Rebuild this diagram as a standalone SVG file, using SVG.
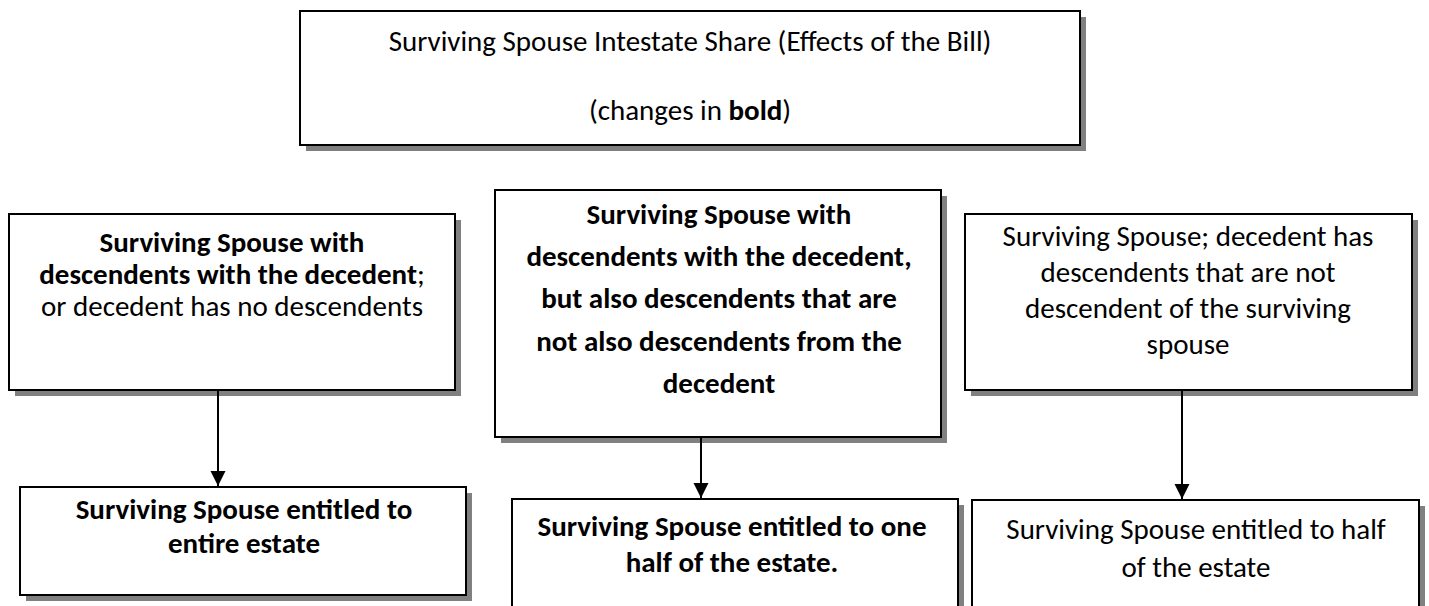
<svg xmlns="http://www.w3.org/2000/svg" width="1429" height="606" viewBox="0 0 1429 606">
<style>
.shadow{fill:#808080;}
.box{fill:#fff;stroke:#000;stroke-width:2;}
text{font-family:Carlito,Lato,"Liberation Sans",sans-serif;font-size:29px;fill:#000;text-anchor:middle;}
.b{font-weight:bold;}
.conn{stroke:#000;stroke-width:2;fill:none;}
</style>
<defs>
<marker id="ah" markerWidth="16" markerHeight="16" refX="15" refY="7.5" orient="auto" markerUnits="userSpaceOnUse">
<path d="M0,0 L15,7.5 L0,15 Z" fill="#000"/>
</marker>
</defs>
<rect width="1429" height="606" fill="#fff"/>

<g id="title">
<rect class="shadow" x="306" y="17" width="780" height="134"/>
<rect class="box" x="300" y="11" width="780" height="134"/>
<text x="690" y="51">Surviving Spouse Intestate Share (Effects of the Bill)</text>
<text x="690" y="120">(changes in <tspan class="b">bold</tspan>)</text>
</g>

<g id="cond1">
<rect class="shadow" x="15" y="220" width="446" height="176"/>
<rect class="box" x="9" y="214" width="446" height="176"/>
<text x="232" y="252"><tspan class="b">Surviving Spouse with</tspan></text>
<text x="232" y="284"><tspan class="b">descendents with the decedent</tspan>;</text>
<text x="232" y="316">or decedent has no descendents</text>
</g>

<g id="cond2">
<rect class="shadow" x="501" y="196" width="446" height="247"/>
<rect class="box" x="495" y="190" width="446" height="247"/>
<text class="b" x="719" y="224">Surviving Spouse with</text>
<text class="b" x="719" y="266">descendents with the decedent,</text>
<text class="b" x="719" y="308">but also descendents that are</text>
<text class="b" x="719" y="351">not also descendents from the</text>
<text class="b" x="719" y="393">decedent</text>
</g>

<g id="cond3">
<rect class="shadow" x="971" y="220" width="447" height="176"/>
<rect class="box" x="965" y="214" width="447" height="176"/>
<text x="1188" y="246">Surviving Spouse; decedent has</text>
<text x="1188" y="282">descendents that are not</text>
<text x="1188" y="318">descendent of the surviving</text>
<text x="1188" y="354">spouse</text>
</g>

<g id="res1">
<rect class="shadow" x="26" y="493" width="446" height="108"/>
<rect class="box" x="20" y="487" width="446" height="108"/>
<text class="b" x="244" y="519">Surviving Spouse entitled to</text>
<text class="b" x="244" y="553">entire estate</text>
</g>

<g id="res2">
<rect class="shadow" x="518" y="505" width="446" height="120"/>
<rect class="box" x="512" y="499" width="446" height="120"/>
<text class="b" x="732" y="536">Surviving Spouse entitled to one</text>
<text class="b" x="732" y="572">half of the estate.</text>
</g>

<g id="res3">
<rect class="shadow" x="978" y="506" width="447" height="120"/>
<rect class="box" x="972" y="500" width="447" height="120"/>
<text x="1196" y="539">Surviving Spouse entitled to half</text>
<text x="1196" y="577">of the estate</text>
</g>

<g id="connectors">
<line class="conn" x1="218" y1="391" x2="218" y2="486" marker-end="url(#ah)"/>
<line class="conn" x1="701" y1="438" x2="701" y2="498" marker-end="url(#ah)"/>
<line class="conn" x1="1182" y1="391" x2="1182" y2="499" marker-end="url(#ah)"/>
</g>
</svg>
